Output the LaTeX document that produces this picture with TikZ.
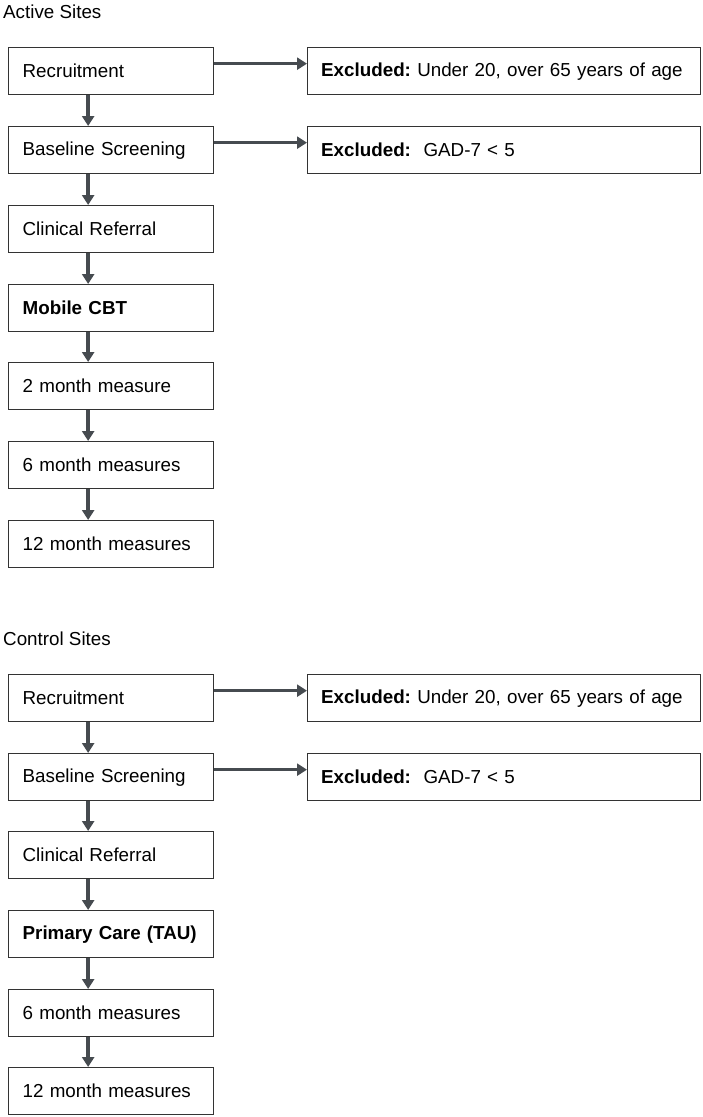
\documentclass[tikz,border=0pt]{standalone}
\usepackage{fontspec}
\setmainfont{Liberation Sans}
\usetikzlibrary{arrows.meta}
\definecolor{boxline}{HTML}{333333}
\definecolor{arrowgray}{HTML}{464B50}
\begin{document}
\begin{tikzpicture}[x=1pt, y=-1pt,
  every node/.style={font=\fontsize{18.8}{23}\selectfont\frenchspacing, inner sep=0pt},
  stage/.style={draw=boxline, line width=1.3pt, anchor=north west,
    minimum width=205pt, minimum height=47pt, text width=177pt,
    inner xsep=14pt, align=left},
  excl/.style={stage, minimum width=393pt, text width=366pt, inner xsep=13.5pt},
  flow/.style={draw=arrowgray, line width=3.5pt,
    -{Triangle[length=10pt, width=12pt]}},
  sitetitle/.style={anchor=base west}]

\useasboundingbox (0,0) rectangle (703,1117);

% active sites
\node[sitetitle] (ta) at (3,18) {Active Sites};

\node[stage] (rec1) at (8,47)  {Recruitment};
\node[stage] (scr1) at (8,126) {Baseline Screening};
\node[stage] (ref1) at (8,205) {Clinical Referral};
\node[stage] (cbt)  at (8,284) {\textbf{Mobile CBT}};
\node[stage] (m2)   at (8,362) {2 month measure};
\node[stage] (m6a)  at (8,441) {6 month measures};
\node[stage] (m12a) at (8,520) {12 month measures};

\node[excl] (exa1) at (307,47)  {\textbf{Excluded:} Under 20, over 65 years of age};
\node[excl] (exa2) at (307,126) {\textbf{Excluded:}\ \ GAD-7 < 5};

\draw[flow] ([yshift=7.5pt]rec1.east) -- ([yshift=7.5pt]exa1.west);
\draw[flow] ([yshift=7.5pt]scr1.east) -- ([yshift=7.5pt]exa2.west);

\draw[flow] ([xshift=-23pt]rec1.south) -- ([xshift=-23pt]scr1.north);
\draw[flow] ([xshift=-23pt]scr1.south) -- ([xshift=-23pt]ref1.north);
\draw[flow] ([xshift=-23pt]ref1.south) -- ([xshift=-23pt]cbt.north);
\draw[flow] ([xshift=-23pt]cbt.south)  -- ([xshift=-23pt]m2.north);
\draw[flow] ([xshift=-23pt]m2.south)   -- ([xshift=-23pt]m6a.north);
\draw[flow] ([xshift=-23pt]m6a.south)  -- ([xshift=-23pt]m12a.north);

% control sites
\node[sitetitle] (tc) at (3,645) {Control Sites};

\node[stage] (rec2) at (8,674)  {Recruitment};
\node[stage] (scr2) at (8,753)  {Baseline Screening};
\node[stage] (ref2) at (8,831)  {Clinical Referral};
\node[stage] (tau)  at (8,910)  {\textbf{Primary Care (TAU)}};
\node[stage] (m6b)  at (8,989)  {6 month measures};
\node[stage] (m12b) at (8,1067) {12 month measures};

\node[excl] (exb1) at (307,674) {\textbf{Excluded:} Under 20, over 65 years of age};
\node[excl] (exb2) at (307,753) {\textbf{Excluded:}\ \ GAD-7 < 5};

\draw[flow] ([yshift=7.5pt]rec2.east) -- ([yshift=7.5pt]exb1.west);
\draw[flow] ([yshift=7.5pt]scr2.east) -- ([yshift=7.5pt]exb2.west);

\draw[flow] ([xshift=-23pt]rec2.south) -- ([xshift=-23pt]scr2.north);
\draw[flow] ([xshift=-23pt]scr2.south) -- ([xshift=-23pt]ref2.north);
\draw[flow] ([xshift=-23pt]ref2.south) -- ([xshift=-23pt]tau.north);
\draw[flow] ([xshift=-23pt]tau.south)  -- ([xshift=-23pt]m6b.north);
\draw[flow] ([xshift=-23pt]m6b.south)  -- ([xshift=-23pt]m12b.north);

\end{tikzpicture}
\end{document}
